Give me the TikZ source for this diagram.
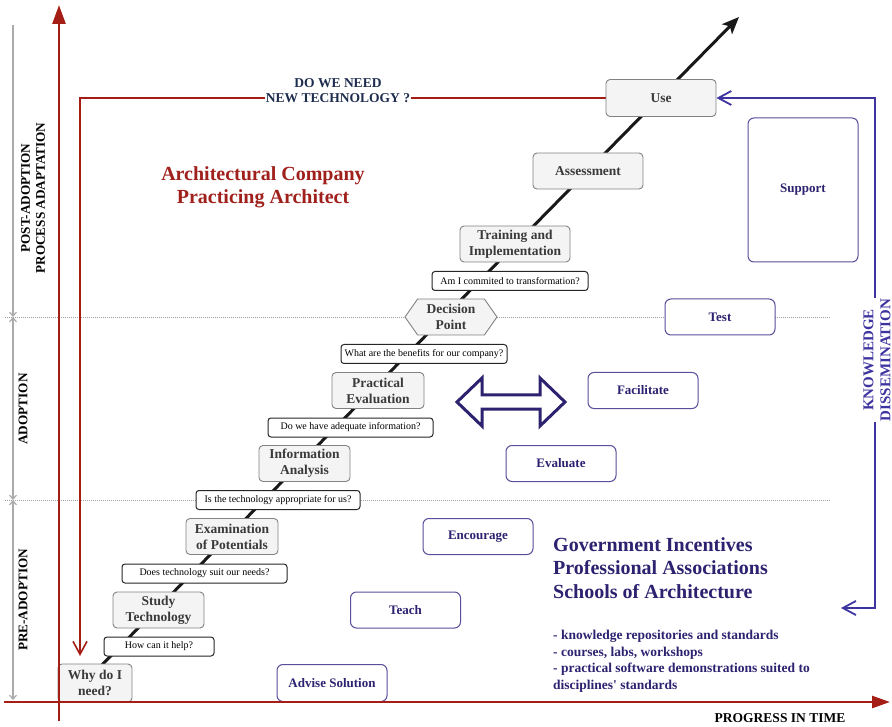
\documentclass[tikz,border=0pt]{standalone}
\usepackage{fontspec}
\setmainfont{Liberation Serif}
\usetikzlibrary{arrows.meta,shapes.symbols,backgrounds}

\definecolor{axred}{RGB}{165,30,22}
\definecolor{titlered}{RGB}{160,32,28}
\definecolor{navy}{RGB}{44,34,112}
\definecolor{blueline}{RGB}{62,52,160}
\definecolor{blueborder}{RGB}{88,78,155}
\definecolor{slate}{RGB}{30,44,78}
\definecolor{procfill}{RGB}{244,244,244}
\definecolor{procdraw}{RGB}{130,130,130}
\definecolor{proctext}{RGB}{58,58,58}
\definecolor{dimgray}{RGB}{170,170,170}

\tikzset{
  proc/.style={draw=procdraw, fill=procfill, rounded corners=4pt, line width=0.9pt,
    text=proctext, font=\fontsize{13.5}{16}\selectfont\bfseries, align=center,
    inner sep=0pt, minimum height=36pt},
  ques/.style={draw=black!85, fill=white, rounded corners=3pt, line width=1pt,
    font=\fontsize{10}{12}\selectfont, inner sep=0pt, minimum height=19pt},
  bluebox/.style={draw=blueborder, fill=white, rounded corners=6pt, line width=1pt,
    text=navy, font=\fontsize{13}{16}\selectfont\bfseries, inner sep=0pt,
    minimum width=110pt, minimum height=36pt},
  sidelab/.style={rotate=90, font=\fontsize{13.2}{15}\selectfont\bfseries, align=center, inner sep=0pt},
  dimline/.style={dimgray, line width=1.2pt},
  phaseline/.style={gray!75, line width=0.8pt, dash pattern=on 1pt off 1pt},
  redaxis/.style={axred, line width=2.6pt},
  redfb/.style={axred, line width=1.6pt},
  bluefb/.style={blueline, line width=1.8pt},
  diag/.style={black!90, line width=3pt}
}

\begin{document}
\begin{tikzpicture}[x=1pt,y=-1pt]
\useasboundingbox (0,0) rectangle (892,727);

% --- process nodes
\node[proc, minimum width=74pt, minimum height=38pt] (why) at (95,683) {Why do I\\need?};
\node[proc, minimum width=91pt] (study) at (158.5,610) {Study\\Technology};
\node[proc, minimum width=92pt] (exam) at (232,536.5) {Examination\\of Potentials};
\node[proc, minimum width=91pt] (info) at (304.5,463.5) {Information\\Analysis};
\node[proc, minimum width=92pt] (prac) at (378,390.5) {Practical\\Evaluation};
\node[proc, signal, signal to=west and east, signal pointer angle=110, sharp corners,
      minimum width=92pt, minimum height=36pt] (dec) at (451,317) {Decision\\Point};
\node[proc, minimum width=110pt] (train) at (515,244) {Training and\\Implementation};
\node[proc, minimum width=110pt] (assess) at (588,171) {Assessment};
\node[proc, minimum width=110pt, minimum height=37pt] (use) at (661,98) {Use};

% --- question nodes
\node[ques, minimum width=110pt] (q1) at (159,646.5) {How can it help?};
\node[ques, minimum width=165pt] (q2) at (204.5,573.5) {Does technology suit our needs?};
\node[ques, minimum width=164pt] (q3) at (278,500) {Is the technology appropriate for us?};
\node[ques, minimum width=165pt] (q4) at (350.5,427.5) {Do we have adequate information?};
\node[ques, minimum width=166pt] (q5) at (424,354) {What are the benefits for our company?};
\node[ques, minimum width=156pt] (q6) at (510,281) {Am I commited to transformation?};

% --- support nodes
\node[bluebox, minimum height=37pt] (advise) at (332,683) {Advise Solution};
\node[bluebox] (teach) at (405.5,610) {Teach};
\node[bluebox] (enc) at (478,536.5) {Encourage};
\node[bluebox] (evalb) at (561,463.5) {Evaluate};
\node[bluebox] (facil) at (643,390.5) {Facilitate};
\node[bluebox] (test) at (720,317) {Test};
\node[bluebox, minimum height=144pt] (support) at (803,190) {Support};

% --- texts
\node[sidelab] (postlab) at (33,198) {POST-ADOPTION\\PROCESS ADAPTATION};
\node[sidelab] (adlab) at (23,409) {ADOPTION};
\node[sidelab] (prelab) at (23,600) {PRE-ADOPTION};

\node[fill=white, inner sep=1pt, text=slate, font=\fontsize{13.5}{15}\selectfont\bfseries,
      align=center, anchor=north] (dowe) at (338,77) {DO WE NEED\\NEW TECHNOLOGY ?};

\node[text=titlered, font=\fontsize{20}{23}\selectfont\bfseries, align=center,
      anchor=north, inner sep=0pt] (company) at (263,166) {Architectural Company\\Practicing Architect};

\node[text=navy, font=\fontsize{20}{23.5}\selectfont\bfseries, align=left,
      anchor=north west, inner sep=0pt] (gov) at (553,537)
      {Government Incentives\\Professional Associations\\Schools of Architecture};

\node[text=navy, font=\fontsize{13.5}{16.7}\selectfont\bfseries, align=left,
      anchor=north west, inner sep=0pt] (bul) at (553,630)
      {- knowledge repositories and standards\\- courses, labs, workshops\\- practical software demonstrations suited to\\disciplines\textquotesingle{} standards};

\node[rotate=90, fill=white, inner sep=1pt, text=blueline, font=\fontsize{15}{17}\selectfont\bfseries,
      align=center] (kd) at (877,360) {KNOWLEDGE\\DISSEMINATION};

\node[font=\fontsize{13.5}{15}\selectfont\bfseries, anchor=base, inner sep=0pt] (prog) at (780,722) {PROGRESS IN TIME};

% --- coordinates
\coordinate (diagstart) at (95,672);
\coordinate (diagend) at (739,17);
\coordinate (redcorner) at (80,98);
\coordinate (redend) at (80,656);
\coordinate (bluetop) at (875,98);
\coordinate (bluebot) at (875,608);
\coordinate (blueend) at (841,608);
\coordinate (dimtop) at (13,25);
\coordinate (dimA) at (13,317);
\coordinate (dimB) at (13,500);
\coordinate (dimbot) at (13,700);
\coordinate (phAl) at (5,317);
\coordinate (phAr) at (830,317);
\coordinate (phBl) at (5,500);
\coordinate (phBr) at (830,500);
\coordinate (vaxbot) at (59,721);
\coordinate (vaxtop) at (59,5);
\coordinate (haxl) at (4,702);
\coordinate (haxr) at (890,702);

\begin{scope}[on background layer]
  \draw[phaseline] (phAl) -- (phAr);
  \draw[phaseline] (phBl) -- (phBr);
  \draw[dimline, -{Straight Barb[length=4pt,width=7pt]}] (dimtop) -- (dimA);
  \draw[dimline, {Straight Barb[length=4pt,width=7pt]}-{Straight Barb[length=4pt,width=7pt]}] (dimA) -- (dimB);
  \draw[dimline, {Straight Barb[length=4pt,width=7pt]}-{Straight Barb[length=4pt,width=7pt]}] (dimB) -- (dimbot);
  \draw[diag, -{Stealth[length=17pt,width=14pt,inset=4pt]}] (diagstart) -- (diagend);
  \draw[redfb, -{Straight Barb[length=13pt,width=14pt]}] (use.west) -- (redcorner) -- (redend);
  \draw[bluefb, {Straight Barb[length=13pt,width=14pt]}-{Straight Barb[length=13pt,width=14pt]}]
     (use.east) -- (bluetop) -- (bluebot) -- (blueend);
\end{scope}

% --- double arrow
\draw[navy, line width=3pt, fill=white, line join=miter]
  (457,402) -- (482,378) -- (482,395) -- (540,395) -- (540,378) -- (565,402)
  -- (540,426) -- (540,409) -- (482,409) -- (482,426) -- cycle;

% --- axes
\draw[redaxis, -{Triangle[length=19pt,width=13pt]}] (vaxbot) -- (vaxtop);
\draw[redaxis, -{Triangle[length=18pt,width=12pt]}] (haxl) -- (haxr);
\end{tikzpicture}
\end{document}
